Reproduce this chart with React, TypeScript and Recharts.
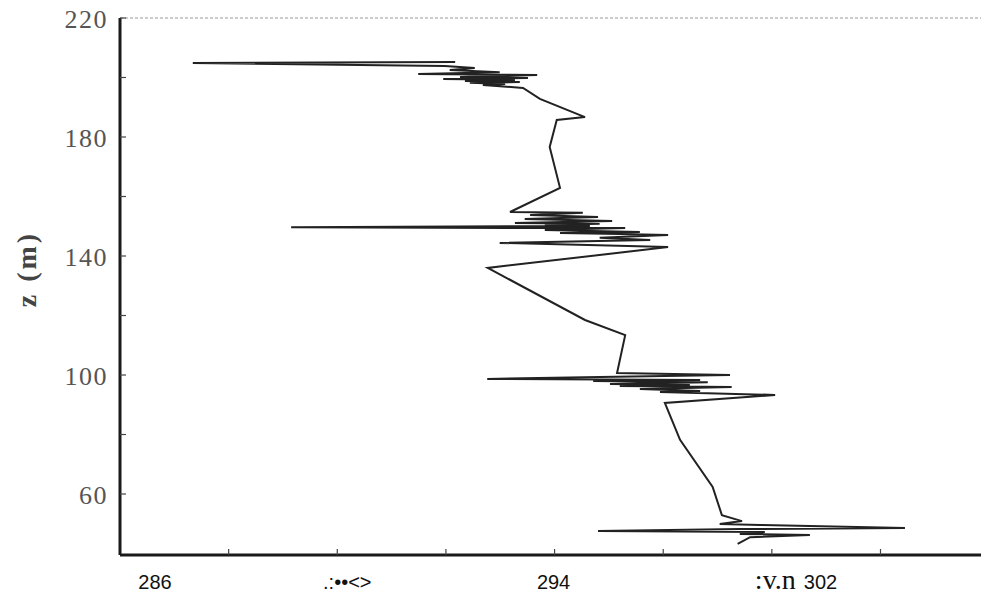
import { ScatterChart, Scatter, XAxis, YAxis, ReferenceLine } from "recharts";

// temperature (x) and height z (m) along the profile, read top to bottom
const TEMP = [
  292.17, 287.34, 291.98, 292.53, 292.07, 292.99, 291.49, 293.68, 292.26, 293.51,
  291.95, 293.27, 292.35, 293.36, 292.44, 293.09, 292.68, 293.42, 293.73, 294.56,
  294.04, 293.91, 294.1, 293.18, 294.52, 293.55, 294.8, 293.45, 295.06, 293.27,
  294.83, 293.82, 294.65, 289.15, 293.73, 295.3, 293.82, 295.57, 294.1, 295.2,
  296.09, 294.83, 295.76, 292.99, 296.09, 292.77, 294.56, 295.3, 295.15, 297.23,
  294.83, 292.76, 296.68, 294.71, 296.82, 295.02, 296.49, 295.2, 297.26, 295.57,
  296.68, 295.94, 298.06, 296.03, 296.31, 296.91, 297.08, 297.45, 297.04, 297.78,
  300.45, 297.41, 294.8, 297.87, 297.41, 298.7, 297.6, 297.37,
];

const Z = [
  205.2, 204.9, 203.9, 203.2, 202.5, 201.8, 201.2, 200.8, 200.2, 199.8,
  199.5, 199.2, 198.8, 198.5, 198.2, 197.8, 197.5, 196.5, 192.8, 186.7,
  185.7, 176.6, 162.9, 154.8, 154.5, 153.8, 153.1, 152.4, 151.8, 151.1,
  150.8, 150.4, 150.1, 149.7, 149.4, 149.4, 148.7, 148.1, 147.7, 147.4,
  147.1, 146.1, 145.4, 144.4, 143.0, 136.0, 118.5, 113.4, 100.7, 100.0,
  99.3, 98.7, 98.3, 98.0, 97.6, 97.0, 96.6, 96.3, 96.0, 95.3,
  94.6, 94.3, 93.3, 90.6, 78.2, 62.4, 52.9, 50.9, 49.9, 49.6,
  48.6, 48.2, 47.6, 47.2, 46.6, 46.2, 45.5, 43.2,
];

const Z_TICKS = [60, 80, 100, 120, 140, 160, 180, 200, 220];
const Z_LABELS = [60, 100, 140, 180, 220];
const T_TICKS = [286, 288, 290, 292, 294, 296, 298, 300];

const profile = TEMP.map((t, i) => ({ t, z: Z[i] }));

const SERIF = "'Liberation Serif', 'DejaVu Serif', serif";
const SANS = "'Liberation Sans', Arial, sans-serif";

function ZTick(props: any) {
  const { x, y, payload } = props;
  const v = payload.value;
  return (
    <g>
      <line x1={x} x2={x + 6} y1={y} y2={y} stroke="#444" strokeWidth={1.2} />
      {Z_LABELS.includes(v) && (
        <text
          x={x - 12}
          y={y + 10}
          textAnchor="end"
          fontFamily={SERIF}
          fontSize={26}
          letterSpacing={1.5}
          fill="#555"
        >
          {v}
        </text>
      )}
    </g>
  );
}

function TTick(props: any) {
  const { x, y, payload } = props;
  const v = payload.value;
  const base = y + 34;
  let label = null;
  if (v === 286) {
    label = (
      <text x={x + 35} y={base} textAnchor="middle" fontFamily={SANS} fontSize={20} fill="#111">
        286
      </text>
    );
  } else if (v === 290) {
    label = (
      <text x={x + 10} y={base} textAnchor="middle" fontFamily={SANS} fontSize={20} fill="#111">
        .:••&lt;&gt;
      </text>
    );
  } else if (v === 294) {
    label = (
      <text x={x - 1} y={base} textAnchor="middle" fontFamily={SANS} fontSize={20} fill="#111">
        294
      </text>
    );
  } else if (v === 298) {
    label = (
      <text x={x - 17} y={base} textAnchor="start" fill="#111">
        <tspan fontFamily={SERIF} fontSize={28}>:v.n</tspan>
        <tspan fontFamily={SANS} fontSize={20} dx={8}>302</tspan>
      </text>
    );
  }
  return (
    <g>
      {v !== 286 && <line x1={x} x2={x} y1={y} y2={y - 6} stroke="#444" strokeWidth={1.2} />}
      {label}
    </g>
  );
}

export default function App() {
  return (
    <div style={{ position: "fixed", left: 0, top: 0, background: "#fff" }}>
      <ScatterChart
        width={981}
        height={595}
        margin={{ top: 18, right: 0, bottom: 0, left: 0 }}
      >
        <XAxis
          type="number"
          dataKey="t"
          domain={[286, 301.85]}
          ticks={T_TICKS}
          height={40}
          tickSize={0}
          tickMargin={0}
          tickLine={false}
          tick={<TTick />}
          axisLine={{ stroke: "#1a1a1a", strokeWidth: 3 }}
          allowDataOverflow
        />
        <YAxis
          type="number"
          dataKey="z"
          domain={[39.5, 220]}
          ticks={Z_TICKS}
          width={120}
          tickSize={0}
          tickMargin={0}
          tickLine={false}
          tick={<ZTick />}
          axisLine={{ stroke: "#1a1a1a", strokeWidth: 3 }}
          allowDataOverflow
          label={{
            content: () => (
              <text
                x={36}
                y={269}
                transform="rotate(-90, 36, 269)"
                textAnchor="middle"
                fontFamily={SERIF}
                fontWeight="bold"
                fontSize={28}
                letterSpacing={3}
                fill="#444"
              >
                z (m)
              </text>
            ),
          }}
        />
        <ReferenceLine y={220} stroke="#999" strokeDasharray="3 2" strokeWidth={1} />
        <Scatter
          data={profile}
          fill="#222"
          line={{ stroke: "#222", strokeWidth: 2 }}
          lineJointType="linear"
          shape={() => <g />}
          isAnimationActive={false}
        />
      </ScatterChart>
    </div>
  );
}
